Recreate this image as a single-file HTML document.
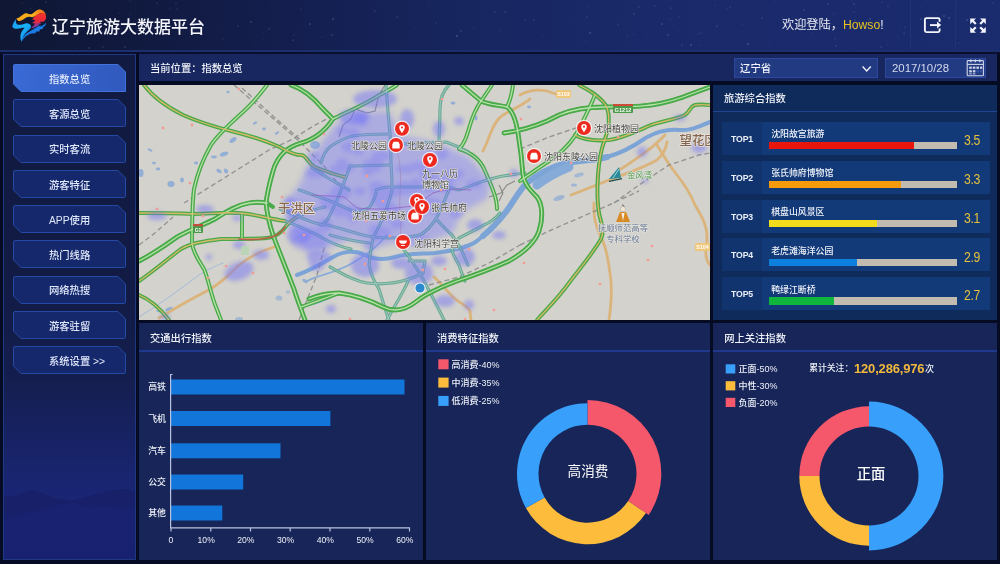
<!DOCTYPE html>
<html lang="zh-CN">
<head>
<meta charset="utf-8">
<title>辽宁旅游大数据平台</title>
<style>
*{box-sizing:border-box;margin:0;padding:0}
html,body{width:1000px;height:564px;overflow:hidden}
body{position:relative;font-family:"Liberation Sans","Noto Sans CJK SC",sans-serif;color:#fff;
 background:#0d1433;}
.abs{position:absolute}
#bg{left:0;top:0;width:1000px;height:52px;background:linear-gradient(90deg,#0f1734 0%,#111a40 15%,#141f50 30%,#17255e 45%,#192968 60%,#1a2a6c 80%,#1a2b6e 100%)}
#hdr{left:0;top:0;width:1000px;height:49px}
#hline{left:0;top:49.5px;width:1000px;height:2.2px;background:#1b2e6e}
#hline2{left:0;top:51.7px;width:1000px;height:2.6px;background:#090f2c}
#title{left:52px;top:15.5px;font-size:17px;font-weight:500;line-height:24px;white-space:nowrap;color:#f4f6fb;letter-spacing:0}
#welcome{left:782px;top:16.4px;font-size:12.2px;line-height:18px;white-space:nowrap;color:#e6e9f2}
#welcome b{font-weight:normal;color:#e8c321}
.vdiv{top:0;width:1px;height:49px;background:#1f3478}
/* sidebar */
#side{left:3.2px;top:54.3px;width:133px;height:506.2px;border:1px solid #203884;background:linear-gradient(180deg,#111a40 0%,#121b44 45%,#141e4e 64%,#172264 76%,#192570 84%,#1b2678 92%,#1a2476 100%);overflow:hidden}
.mb{left:13px;width:113px;height:27px}
.mb svg{position:absolute;left:0;top:0}
.mb span{position:absolute;left:0;top:0;width:113px;height:27px;line-height:27px;text-align:center;font-size:10.3px;color:#dfe6f7}
/* panels */
.panel{background:#172558}
.ph{left:0;top:0;width:100%;height:28.6px;border-bottom:2.2px solid #21398c}
.pt{position:absolute;left:11px;top:1.6px;line-height:27px;font-weight:500;font-size:10.3px;color:#eef1f8;white-space:nowrap}
#crumb{left:139px;top:54px;width:858px;height:27px;background:#18275f}
#crumb .pt{left:11px;top:1px}
.inp{top:57.6px;height:20.6px;background:#223a82;border:1px solid #2c489c}

.mbtn{position:absolute;left:13px;width:113px;height:28px}
.mbtn svg{position:absolute;left:0;top:0;width:113px;height:28px;overflow:visible}
.mbtn span{position:absolute;left:0;top:1.8px;width:113px;height:28px;line-height:28px;text-align:center;font-size:10.3px;font-weight:500;color:#dfe7fa;white-space:nowrap}
.row{position:absolute;left:9px;width:267.6px;height:33px;background:#133a78}
.row .tc{position:absolute;left:0;top:0;width:40px;height:33px;background:#11346e;text-align:center;line-height:34.6px;font-size:8.7px;font-weight:700;color:#e9eef9;letter-spacing:-0.1px}
.row .nm{position:absolute;left:49.2px;top:4.8px;font-size:8.9px;line-height:16px;font-weight:500;color:#f0f3fa;white-space:nowrap}
.row .bar{position:absolute;left:47.4px;top:20.2px;width:188px;height:7.4px;background:#c2bbb0}
.row .bar i{position:absolute;left:0;top:0;height:100%;display:block}
.row .val{position:absolute;left:236px;top:10.2px;width:28px;text-align:center;font-size:14.2px;line-height:16px;color:#e6c13c;letter-spacing:-0.4px;white-space:nowrap;transform:scaleX(0.86)}
.lg{position:absolute;font-size:9px;line-height:12px;font-weight:500;color:#eef1f8;white-space:nowrap}
.sq{position:absolute;width:10px;height:10px}
</style>
</head>
<body>
<div id="bg" class="abs"></div>
<div class="abs" style="left:0;top:52px;width:1000px;height:512px;background:#060b24"></div>
<svg class="abs" style="left:0;top:0" width="1000" height="50" viewBox="0 0 1000 50"><g fill="#b8c4ee"><circle cx="238" cy="26" r="0.5" opacity="0.42"/><circle cx="474" cy="28" r="0.8" opacity="0.12"/><circle cx="837" cy="12" r="0.5" opacity="0.18"/><circle cx="717" cy="26" r="0.8" opacity="0.28"/><circle cx="639" cy="7" r="0.5" opacity="0.41"/><circle cx="523" cy="36" r="0.4" opacity="0.17"/><circle cx="957" cy="2" r="0.4" opacity="0.39"/><circle cx="269" cy="29" r="0.6" opacity="0.36"/><circle cx="921" cy="19" r="0.8" opacity="0.27"/><circle cx="936" cy="42" r="0.4" opacity="0.13"/><circle cx="495" cy="12" r="0.6" opacity="0.38"/><circle cx="855" cy="20" r="0.6" opacity="0.31"/><circle cx="534" cy="20" r="0.5" opacity="0.42"/><circle cx="682" cy="45" r="0.5" opacity="0.45"/><circle cx="671" cy="8" r="0.5" opacity="0.44"/><circle cx="905" cy="27" r="0.5" opacity="0.33"/><circle cx="988" cy="13" r="0.4" opacity="0.14"/><circle cx="854" cy="48" r="0.4" opacity="0.23"/><circle cx="67" cy="43" r="0.4" opacity="0.22"/><circle cx="769" cy="42" r="0.4" opacity="0.32"/><circle cx="762" cy="18" r="0.8" opacity="0.23"/><circle cx="881" cy="47" r="0.8" opacity="0.20"/><circle cx="36" cy="0" r="0.4" opacity="0.32"/><circle cx="31" cy="9" r="0.6" opacity="0.22"/><circle cx="263" cy="33" r="0.5" opacity="0.22"/><circle cx="959" cy="43" r="0.6" opacity="0.24"/><circle cx="870" cy="19" r="0.8" opacity="0.34"/><circle cx="103" cy="47" r="0.8" opacity="0.21"/><circle cx="634" cy="34" r="0.5" opacity="0.26"/><circle cx="258" cy="15" r="0.5" opacity="0.12"/><circle cx="415" cy="28" r="0.4" opacity="0.24"/><circle cx="589" cy="6" r="0.5" opacity="0.27"/><circle cx="679" cy="17" r="0.5" opacity="0.36"/><circle cx="22" cy="3" r="0.4" opacity="0.44"/><circle cx="251" cy="22" r="0.8" opacity="0.32"/><circle cx="177" cy="9" r="0.5" opacity="0.40"/><circle cx="264" cy="38" r="0.4" opacity="0.37"/><circle cx="27" cy="27" r="0.5" opacity="0.22"/><circle cx="223" cy="39" r="0.5" opacity="0.23"/><circle cx="678" cy="31" r="0.4" opacity="0.15"/><circle cx="322" cy="16" r="0.5" opacity="0.26"/><circle cx="856" cy="8" r="0.5" opacity="0.36"/><circle cx="218" cy="27" r="0.5" opacity="0.19"/><circle cx="121" cy="25" r="0.5" opacity="0.22"/><circle cx="836" cy="28" r="0.5" opacity="0.23"/><circle cx="828" cy="4" r="0.8" opacity="0.23"/><circle cx="130" cy="14" r="0.5" opacity="0.27"/><circle cx="634" cy="14" r="0.8" opacity="0.26"/><circle cx="921" cy="7" r="0.4" opacity="0.28"/><circle cx="833" cy="30" r="0.8" opacity="0.26"/><circle cx="950" cy="45" r="0.5" opacity="0.13"/><circle cx="457" cy="36" r="0.8" opacity="0.44"/><circle cx="544" cy="43" r="0.4" opacity="0.40"/><circle cx="971" cy="6" r="0.5" opacity="0.13"/><circle cx="904" cy="33" r="0.5" opacity="0.42"/><circle cx="900" cy="28" r="0.4" opacity="0.28"/><circle cx="121" cy="24" r="0.5" opacity="0.34"/><circle cx="525" cy="20" r="0.8" opacity="0.16"/><circle cx="125" cy="47" r="0.8" opacity="0.28"/><circle cx="782" cy="17" r="0.5" opacity="0.16"/><circle cx="888" cy="6" r="0.5" opacity="0.38"/><circle cx="922" cy="39" r="0.4" opacity="0.28"/><circle cx="571" cy="19" r="0.5" opacity="0.20"/><circle cx="618" cy="25" r="0.4" opacity="0.28"/><circle cx="776" cy="0" r="0.4" opacity="0.38"/><circle cx="46" cy="2" r="0.6" opacity="0.44"/><circle cx="854" cy="4" r="0.8" opacity="0.28"/><circle cx="157" cy="3" r="0.6" opacity="0.33"/><circle cx="587" cy="17" r="0.5" opacity="0.45"/><circle cx="429" cy="6" r="0.4" opacity="0.36"/><circle cx="380" cy="4" r="0.5" opacity="0.13"/><circle cx="461" cy="31" r="0.8" opacity="0.25"/><circle cx="801" cy="30" r="0.6" opacity="0.14"/><circle cx="627" cy="36" r="0.5" opacity="0.26"/><circle cx="694" cy="22" r="0.5" opacity="0.19"/><circle cx="270" cy="28" r="0.6" opacity="0.19"/><circle cx="130" cy="1" r="0.5" opacity="0.24"/><circle cx="898" cy="38" r="0.5" opacity="0.16"/><circle cx="691" cy="45" r="0.8" opacity="0.38"/><circle cx="668" cy="35" r="0.8" opacity="0.30"/><circle cx="812" cy="34" r="0.6" opacity="0.17"/><circle cx="774" cy="2" r="0.4" opacity="0.31"/><circle cx="659" cy="18" r="0.4" opacity="0.23"/><circle cx="852" cy="1" r="0.4" opacity="0.34"/><circle cx="836" cy="46" r="0.8" opacity="0.22"/><circle cx="89" cy="48" r="0.8" opacity="0.29"/><circle cx="715" cy="5" r="0.4" opacity="0.43"/><circle cx="61" cy="16" r="0.8" opacity="0.18"/><circle cx="77" cy="48" r="0.5" opacity="0.27"/><circle cx="700" cy="45" r="0.5" opacity="0.24"/><circle cx="397" cy="17" r="0.6" opacity="0.44"/><circle cx="375" cy="11" r="0.6" opacity="0.40"/><circle cx="967" cy="20" r="0.8" opacity="0.37"/><circle cx="674" cy="25" r="0.6" opacity="0.17"/><circle cx="401" cy="43" r="0.5" opacity="0.15"/><circle cx="748" cy="44" r="0.8" opacity="0.43"/><circle cx="586" cy="41" r="0.5" opacity="0.21"/><circle cx="199" cy="28" r="0.5" opacity="0.43"/><circle cx="851" cy="26" r="0.5" opacity="0.34"/><circle cx="855" cy="29" r="0.8" opacity="0.31"/><circle cx="267" cy="10" r="0.4" opacity="0.21"/><circle cx="804" cy="10" r="0.8" opacity="0.24"/><circle cx="322" cy="37" r="0.5" opacity="0.26"/><circle cx="698" cy="34" r="0.5" opacity="0.27"/><circle cx="835" cy="39" r="0.8" opacity="0.13"/><circle cx="993" cy="3" r="0.6" opacity="0.38"/><circle cx="882" cy="2" r="0.5" opacity="0.41"/><circle cx="648" cy="37" r="0.4" opacity="0.44"/><circle cx="854" cy="12" r="0.5" opacity="0.38"/><circle cx="137" cy="30" r="0.4" opacity="0.42"/><circle cx="255" cy="42" r="0.5" opacity="0.18"/><circle cx="91" cy="38" r="0.4" opacity="0.15"/><circle cx="834" cy="14" r="0.5" opacity="0.27"/><circle cx="734" cy="16" r="0.4" opacity="0.23"/><circle cx="436" cy="23" r="0.5" opacity="0.33"/><circle cx="742" cy="24" r="0.5" opacity="0.30"/><circle cx="119" cy="13" r="0.6" opacity="0.16"/><circle cx="887" cy="44" r="0.4" opacity="0.29"/><circle cx="701" cy="33" r="0.5" opacity="0.37"/><circle cx="296" cy="32" r="0.5" opacity="0.16"/><circle cx="944" cy="16" r="0.8" opacity="0.30"/><circle cx="113" cy="24" r="0.5" opacity="0.14"/><circle cx="294" cy="35" r="0.5" opacity="0.33"/><circle cx="730" cy="7" r="0.5" opacity="0.41"/><circle cx="655" cy="6" r="0.8" opacity="0.17"/><circle cx="332" cy="35" r="0.8" opacity="0.26"/><circle cx="301" cy="9" r="0.6" opacity="0.22"/><circle cx="176" cy="3" r="0.5" opacity="0.37"/><circle cx="543" cy="36" r="0.5" opacity="0.15"/><circle cx="271" cy="3" r="0.5" opacity="0.13"/><circle cx="505" cy="12" r="0.8" opacity="0.24"/><circle cx="333" cy="19" r="0.8" opacity="0.39"/><circle cx="69" cy="24" r="0.4" opacity="0.17"/><circle cx="590" cy="33" r="0.8" opacity="0.38"/><circle cx="727" cy="9" r="0.5" opacity="0.31"/><circle cx="670" cy="19" r="0.5" opacity="0.32"/><circle cx="146" cy="19" r="0.5" opacity="0.30"/><circle cx="170" cy="9" r="0.5" opacity="0.24"/><circle cx="293" cy="40" r="0.6" opacity="0.41"/><circle cx="949" cy="18" r="0.8" opacity="0.42"/><circle cx="310" cy="24" r="0.8" opacity="0.35"/><circle cx="299" cy="41" r="0.6" opacity="0.13"/><circle cx="190" cy="30" r="0.4" opacity="0.37"/><circle cx="662" cy="24" r="0.8" opacity="0.33"/><circle cx="199" cy="38" r="0.5" opacity="0.13"/><circle cx="500" cy="31" r="0.6" opacity="0.16"/><circle cx="283" cy="32" r="0.5" opacity="0.16"/><circle cx="792" cy="30" r="0.4" opacity="0.13"/><circle cx="618" cy="24" r="0.6" opacity="0.30"/><circle cx="930" cy="16" r="0.5" opacity="0.35"/></g></svg>
<div id="hline" class="abs"></div>
<div id="hline2" class="abs"></div>
<div id="title" class="abs">辽宁旅游大数据平台</div>
<div id="welcome" class="abs">欢迎登陆，<b>Howso</b>!</div>
<div class="abs vdiv" style="left:910px"></div>
<div class="abs vdiv" style="left:955px"></div>

<svg id="hicons" class="abs" style="left:0;top:0;z-index:5" width="1000" height="90" viewBox="0 0 1000 90" font-family="Liberation Sans, Noto Sans CJK SC, sans-serif">
<defs>
<linearGradient id="lgo" x1="0" y1="0" x2="1" y2="0"><stop offset="0" stop-color="#f6a51a"/><stop offset="0.55" stop-color="#f9b21c"/><stop offset="1" stop-color="#f4621f"/></linearGradient>
<linearGradient id="lgr" x1="0" y1="0" x2="0" y2="1"><stop offset="0" stop-color="#f5342a"/><stop offset="0.6" stop-color="#e8283c"/><stop offset="1" stop-color="#8a3aa0"/></linearGradient>
<linearGradient id="lgb" x1="0" y1="0" x2="1" y2="1"><stop offset="0" stop-color="#1a9cf0"/><stop offset="0.5" stop-color="#18b4f8"/><stop offset="1" stop-color="#1672dc"/></linearGradient>
</defs>
<!-- logo -->
<g id="logo">
<path d="M16.4 18.2C18.5 18.6 20.4 16.2 22.4 14.9C24 13.8 25.6 13.1 27.2 13.4C28.8 13.8 30.2 14.6 31.8 13.9C33.4 13.2 34.6 11.8 36.2 10.8C38 9.6 40.6 9 42.8 10.4C44.6 11.6 45.6 13.6 46 15.8C44.4 13.6 42 13 40 13.4C38.4 13.8 37.2 14.8 35.8 15.8C34.2 17 32.4 17.4 30.6 17C29 16.6 27.6 16.8 26.2 17.6C24.2 18.8 22.4 20.4 20.2 21C18.4 21.4 16.8 20.2 16.4 18.2Z" fill="url(#lgo)"/>
<path d="M32.2 19.2C33.8 17 35.8 15.4 38 14.2C40.4 12.9 43.6 12.8 45.4 14.8C46.6 16.4 46.4 18.8 45 20.4C43.6 21.8 41.6 22 39.8 21.8L41.2 23.4L36.6 24L37.6 25.6L33.2 26.6L35 23.4L32 23L35.4 20.6Z" fill="url(#lgr)"/>
<path d="M31 28.4C32.4 26.6 34.6 25.6 36.8 24.6L40.8 22.6L38.4 25.6C36.4 27 33.4 28 31 28.4Z" fill="#8c3c9e"/>
<path d="M12.3 26.4C12.8 23.8 14.4 21 16 19C15.6 21.4 15.8 23.4 17.4 24.4C19.6 25.6 22.6 24 25.4 23.4C27.6 23 29.8 23.6 30.8 25.4C31.4 26.8 30.6 28.4 29.4 29.6C27.6 31.4 25.4 32.8 24.2 35C23 37 22.4 39.4 21.6 41.8C20.2 39.2 20 36 21 33.2C21.8 30.8 23.6 29.2 24.6 27.4C22.2 27.2 19.6 28.6 17 28.8C15 29 12.8 28.2 12.3 26.4Z" fill="url(#lgb)"/>
<path d="M21.6 41.8C22.2 38.2 24 35.4 26.8 33.2C29.4 31.2 32.4 30 35 28.2L38.4 26.2L41 25.2L40 27L43.8 24.8L46 22.4L45.4 25.4L42.8 27.4L43.4 28.6L39.4 29.8L39.8 31.2L35.6 31.8L35.8 33.2L31.6 33.6C28.4 34.4 25.6 36.2 23.8 38.4C23 39.4 22.2 40.6 21.6 41.8Z" fill="#1a7ce6"/>
</g>
<!-- logout icon -->
<g fill="none" stroke="#f2f4fa" stroke-width="1.9" stroke-linejoin="round">
<path d="M939.6 21.8V19.6Q939.6 18.1 938.1 18.1H926.4Q924.9 18.1 924.9 19.6V30.6Q924.9 32.1 926.4 32.1H938.1Q939.6 32.1 939.6 30.6V28.6"/>
<path d="M930 25.1H938.2"/>
</g>
<path d="M937 21.6L941.2 25.1L937 28.6Z" fill="#f2f4fa"/>
<!-- fullscreen icon -->
<g fill="#f2f4fa">
<path d="M970.2 18.4H976L973.9 20.5L976.6 23.2L975 24.8L972.3 22.1L970.2 24.2Z"/>
<path d="M985.8 18.4H980L982.1 20.5L979.4 23.2L981 24.8L983.7 22.1L985.8 24.2Z"/>
<path d="M970.2 32.8H976L973.9 30.7L976.6 28L975 26.4L972.3 29.1L970.2 27Z"/>
<path d="M985.8 32.8H980L982.1 30.7L979.4 28L981 26.4L983.7 29.1L985.8 27Z"/>
</g>
<!-- select -->
<text x="740" y="71.6" font-size="10.4" font-weight="500" fill="#f1f4fb">辽宁省</text>
<path d="M862.6 66.6L866.7 71L870.8 66.6" fill="none" stroke="#eef1f8" stroke-width="1.4"/>
<text x="892" y="72.4" font-size="11.4" fill="#d4daee">2017/10/28</text>
<!-- calendar -->
<g fill="none" stroke="#cfd5ea" stroke-width="1.1">
<rect x="967.2" y="60.6" width="16.2" height="15.2" rx="0.8"/>
<path d="M967.2 64.4H983.4"/>
<path d="M970.8 59.6V62.2M975.3 59.6V62.2M979.8 59.6V62.2" stroke-width="1.3"/>
</g>
<g fill="#cfd5ea">
<rect x="969.2" y="66.6" width="2.6" height="2.2"/><rect x="972.8" y="66.6" width="2.6" height="2.2"/><rect x="976.4" y="66.6" width="2.6" height="2.2"/><rect x="980" y="66.6" width="2.2" height="2.2"/>
<rect x="969.2" y="70.2" width="2.6" height="2.2"/><rect x="972.8" y="70.2" width="2.6" height="2.2"/>
<rect x="969.2" y="73" width="2.6" height="1.6" opacity="0.6"/><rect x="972.8" y="73" width="2.6" height="1.6" opacity="0.6"/>
</g>
<g fill="#3a56a8"><rect x="976.4" y="70.2" width="2.6" height="2.2"/><rect x="980" y="70.2" width="2.2" height="2.2"/></g>
</svg>
<div id="side" class="abs"><svg style="position:absolute;left:0;top:430px" width="131" height="76" viewBox="0 0 131 76"><path d="M0 12L14 10L28 5L38 8L52 13L66 16L82 12L96 8L110 5L122 4L131 7V76H0Z" fill="#131a5c" opacity="0.45"/><path d="M0 36L16 30L36 25L56 20L68 17L84 22L100 20L116 24L131 22V76H0Z" fill="#1a2478" opacity="0.5"/></svg></div>
<div class="mbtn" style="top:64.0px"><svg viewBox="0 0 113 28"><defs><linearGradient id="ab" x1="0" y1="0" x2="1" y2="0"><stop offset="0" stop-color="#3a6ad6"/><stop offset="0.5" stop-color="#3561c8"/><stop offset="1" stop-color="#3159be"/></linearGradient></defs><path d="M1.5 0.5H105L112.5 8V27.5H8L0.5 20V1.5Q0.5 0.5 1.5 0.5Z" fill="url(#ab)" stroke="#4273dc" stroke-width="1"/></svg><span style="text-align:left;padding-left:36px">指数总览</span></div>
<div class="mbtn" style="top:99.2px"><svg viewBox="0 0 113 28"><path d="M2 0.5H105L112.5 8V26.5Q112.5 27.5 111.5 27.5H8L0.5 20V2Q0.5 0.5 2 0.5Z" fill="#15286b" stroke="#2649a6" stroke-width="1"/></svg><span style="text-align:left;padding-left:36px">客源总览</span></div>
<div class="mbtn" style="top:134.5px"><svg viewBox="0 0 113 28"><path d="M2 0.5H105L112.5 8V26.5Q112.5 27.5 111.5 27.5H8L0.5 20V2Q0.5 0.5 2 0.5Z" fill="#15286b" stroke="#2649a6" stroke-width="1"/></svg><span style="text-align:left;padding-left:36px">实时客流</span></div>
<div class="mbtn" style="top:169.8px"><svg viewBox="0 0 113 28"><path d="M2 0.5H105L112.5 8V26.5Q112.5 27.5 111.5 27.5H8L0.5 20V2Q0.5 0.5 2 0.5Z" fill="#15286b" stroke="#2649a6" stroke-width="1"/></svg><span style="text-align:left;padding-left:36px">游客特征</span></div>
<div class="mbtn" style="top:205.0px"><svg viewBox="0 0 113 28"><path d="M2 0.5H105L112.5 8V26.5Q112.5 27.5 111.5 27.5H8L0.5 20V2Q0.5 0.5 2 0.5Z" fill="#15286b" stroke="#2649a6" stroke-width="1"/></svg><span style="text-align:left;padding-left:36px">APP使用</span></div>
<div class="mbtn" style="top:240.2px"><svg viewBox="0 0 113 28"><path d="M2 0.5H105L112.5 8V26.5Q112.5 27.5 111.5 27.5H8L0.5 20V2Q0.5 0.5 2 0.5Z" fill="#15286b" stroke="#2649a6" stroke-width="1"/></svg><span style="text-align:left;padding-left:36px">热门线路</span></div>
<div class="mbtn" style="top:275.5px"><svg viewBox="0 0 113 28"><path d="M2 0.5H105L112.5 8V26.5Q112.5 27.5 111.5 27.5H8L0.5 20V2Q0.5 0.5 2 0.5Z" fill="#15286b" stroke="#2649a6" stroke-width="1"/></svg><span style="text-align:left;padding-left:36px">网络热搜</span></div>
<div class="mbtn" style="top:310.8px"><svg viewBox="0 0 113 28"><path d="M2 0.5H105L112.5 8V26.5Q112.5 27.5 111.5 27.5H8L0.5 20V2Q0.5 0.5 2 0.5Z" fill="#15286b" stroke="#2649a6" stroke-width="1"/></svg><span style="text-align:left;padding-left:36px">游客驻留</span></div>
<div class="mbtn" style="top:346.0px"><svg viewBox="0 0 113 28"><path d="M2 0.5H105L112.5 8V26.5Q112.5 27.5 111.5 27.5H8L0.5 20V2Q0.5 0.5 2 0.5Z" fill="#15286b" stroke="#2649a6" stroke-width="1"/></svg><span style="text-align:left;padding-left:36px">系统设置 &gt;&gt;</span></div>

<div id="crumb" class="abs"><span class="pt">当前位置：指数总览</span></div>
<div class="abs inp" style="left:734px;width:144px"></div>
<div class="abs inp" style="left:885px;width:101px"></div>

<div id="map" class="abs" style="left:139px;top:85px;width:571px;height:235px;background:#d3d2cc;overflow:hidden">
<svg class="abs" style="left:0;top:0;filter:blur(0.35px)" width="571" height="235" viewBox="0 0 571 235" font-family="Liberation Sans, Noto Sans CJK SC, sans-serif">
<defs>
<filter id="hb" x="-20%" y="-20%" width="140%" height="140%"><feGaussianBlur stdDeviation="3.2"/></filter>
<filter id="hb2" x="-20%" y="-20%" width="140%" height="140%"><feGaussianBlur stdDeviation="2"/></filter>
<filter id="sb" x="-10%" y="-10%" width="120%" height="120%"><feGaussianBlur stdDeviation="0.35"/></filter>
<g id="pin" transform="scale(1.32)"><circle r="6.2" fill="#fff" opacity="0.75"/><circle r="5.3" fill="#ee2a1e"/><path d="M0 -3.1A2.1 2.1 0 0 1 2.1 -1C2.1 0.6 0 3.2 0 3.2C0 3.2 -2.1 0.6 -2.1 -1A2.1 2.1 0 0 1 0 -3.1Z" fill="#fff"/><circle cy="-1" r="0.8" fill="#ee2a1e"/></g>
<g id="hse" transform="scale(1.32)"><circle r="6.2" fill="#fff" opacity="0.75"/><circle r="5.3" fill="#ee2a1e"/><path d="M-2.8 2.6V-0.4L-1.8 -2.4H1.8L2.8 -0.4V2.6Z" fill="#fff"/></g>
<g id="bwl" transform="scale(1.32)"><circle r="6.2" fill="#fff" opacity="0.75"/><circle r="5.3" fill="#ee2a1e"/><path d="M-3 -1.2H3A3 2.6 0 0 1 -3 -1.2ZM-1.4 2.2H1.4V3H-1.4Z" fill="#fff"/></g>
</defs>
<rect width="571" height="235" fill="#d3d2cc"/>
<g filter="url(#sb)">
<!-- water -->
<g id="water" fill="none" stroke="#7ba4d6" stroke-linecap="round" stroke-linejoin="round">
<path d="M571 37C560 41 552 46 540 45C528 44 516 47 505 54C495 61 482 68 468 72C452 76 438 75 424 79C410 83 398 90 388 98C380 105 374 118 366 128C358 138 348 148 338 156C328 163 312 166 296 168C282 169 268 168 256 172C246 175 236 175 226 170C216 165 204 166 194 172C184 178 170 186 158 190" stroke-width="4"/>
<path d="M468 72C452 76 438 75 424 79C410 83 398 90 388 98C380 105 374 118 366 128C360 136 352 144 344 151" stroke-width="6"/>
<path d="M430 82C420 86 408 92 398 100" stroke-width="9" stroke="#86abd8"/>
<path d="M248 150C238 162 225 172 210 180C195 188 180 190 168 196" stroke-width="1.8" stroke="#8aacd8"/>
<path d="M200 208C190 214 176 220 160 222" stroke-width="1.6" stroke="#8aacd8"/>
<path d="M0 232C20 220 40 205 60 190C70 184 78 180 84 178" stroke-width="0.8" stroke="#9ab4dc"/>
</g>
<g id="ponds" fill="#7fa3d8" opacity="0.75">
<ellipse cx="94" cy="55" rx="4" ry="2.2" transform="rotate(-35 94 55)"/>
<ellipse cx="85" cy="69" rx="4.5" ry="2" transform="rotate(-20 85 69)"/>
<ellipse cx="75" cy="72" rx="3" ry="1.4"/>
<ellipse cx="80" cy="86" rx="3" ry="1.6" transform="rotate(30 80 86)"/>
<ellipse cx="87" cy="86" rx="2" ry="2.6" transform="rotate(-30 87 86)"/>
<ellipse cx="32" cy="99" rx="3.6" ry="3"/>
<ellipse cx="43" cy="95" rx="2" ry="2.6"/>
<ellipse cx="19" cy="84" rx="2.4" ry="1.4"/>
<ellipse cx="15" cy="78" rx="2" ry="1.2"/>
<ellipse cx="11" cy="65" rx="2.6" ry="1.2" transform="rotate(25 11 65)"/>
<ellipse cx="2" cy="88" rx="2.6" ry="4"/>
<ellipse cx="57" cy="78" rx="2.2" ry="1.4"/>
<ellipse cx="125" cy="44" rx="2" ry="1.4"/>
<ellipse cx="116" cy="38" rx="2.4" ry="1.2" transform="rotate(-30 116 38)"/>
<ellipse cx="138" cy="48" rx="2.4" ry="1.2" transform="rotate(-30 138 48)"/>
<ellipse cx="176" cy="60" rx="5" ry="4" />
<ellipse cx="89" cy="7" rx="1.6" ry="1.2"/>
<ellipse cx="140" cy="213" rx="3.4" ry="2.6" opacity="0.7"/>
<ellipse cx="149" cy="207" rx="2.4" ry="1.8" opacity="0.6"/>
<ellipse cx="100" cy="234" rx="4" ry="2" opacity="0.7"/>
<ellipse cx="30" cy="224" rx="4" ry="1.6" transform="rotate(-25 30 224)"/>
<ellipse cx="20" cy="226" rx="2.6" ry="1.2"/>
<ellipse cx="166" cy="196" rx="3" ry="1.6" transform="rotate(30 166 196)"/>
<ellipse cx="314" cy="18" rx="2.4" ry="1.6"/>
<ellipse cx="337" cy="33" rx="1.6" ry="2.4"/>
<ellipse cx="390" cy="22" rx="2" ry="1.4"/>
<ellipse cx="420" cy="113" rx="6" ry="2.4" transform="rotate(-20 420 113)" opacity="0.8"/>
<ellipse cx="435" cy="100" rx="3" ry="1.6" opacity="0.8"/>
<ellipse cx="440" cy="90" rx="5" ry="2" transform="rotate(-15 440 90)" opacity="0.7"/>
</g>
<!-- orange roads -->
<g fill="none" stroke="#dbb47c" stroke-width="2.8" stroke-linecap="round" stroke-linejoin="round">
<path d="M20 233C35 224 50 215 66 207C80 200 90 190 100 180C110 172 122 166 135 162"/>
<path d="M391 14C384 20 374 24 364 30C356 35 353 45 350 52C348 58 346 62 344 66" />
<path d="M432 110C448 104 462 98 478 92C492 87 506 82 518 75C524 70 527 63 528 57"/>
<path d="M480 85C492 78 502 70 512 63C518 58 522 54 526 50"/>
<path d="M518 60C524 70 530 80 538 90C546 100 552 110 556 120C562 130 568 140 568 152C568 164 564 172 571 180"/>
<path d="M455 118C454 128 456 140 462 152C468 164 470 180 472 196C473 210 472 222 470 235"/>
<path d="M295 192C302 198 308 206 314 212C320 218 328 220 331 226L332 235"/>
<path d="M381 10C388 6 398 4 408 6C414 8 418 10 424 10"/>
<path d="M258 66C262 80 262 95 261 110C260 125 262 140 262 150" stroke="#c9a08a" stroke-width="1" opacity="0.8"/>
</g>
<!-- railways -->
<g fill="none" stroke="#8a8a8a" stroke-width="1.4" stroke-dasharray="5 3" opacity="0.85">
<path d="M95 0L130 30L160 56L186 82L200 100"/>
<path d="M45 118L90 90L130 65L152 55L176 40L190 33"/>
<path d="M103 3L135 32L165 58"/>
<path d="M0 160L16 148L34 132"/>
<path d="M475 118L500 100L530 80L560 70L571 68"/>
<path d="M381 160L410 146L440 133L470 120L500 106"/>
<path d="M290 200L320 192L350 178L381 160"/>
<path d="M160 235L170 210L178 190L186 160"/>
<path d="M381 64L410 52L440 42"/>
</g>
<g fill="none" stroke="#777" stroke-width="1.1" opacity="0.8">
<path d="M200 52L204 40L212 34L216 24L228 28L236 26L240 10L246 0"/>
<path d="M350 112L362 108L368 100L376 96"/>
<path d="M360 100L364 108L360 116"/>
</g>
<!-- green roads -->
<g id="roads" fill="none" stroke-linecap="round" stroke-linejoin="round">
<g stroke="#48aa48" stroke-width="4">
<path id="rA" d="M5 0C14 12 28 22 44 30C60 37 76 42 92 46C108 50 122 54 136 60C146 64 152 70 162 70C168 70 168 78 176 82C186 86 196 90 206 92"/>
<path id="rB" d="M128 0C122 8 114 18 104 27C92 38 80 48 72 60C64 74 58 90 55 104C53 120 53 140 53 158C54 168 60 176 65 184C70 196 72 210 77 222L82 235"/>
<path id="rC" d="M152 0C164 4 174 12 184 24C188 28 192 32 194 34C186 46 176 54 162 58C148 62 138 72 134 86C130 100 128 110 127 118C128 128 130 138 134 150C140 166 148 186 155 204C158 214 162 224 166 235"/>
<path id="rC2" d="M194 34C206 28 220 22 234 14C244 8 252 4 258 0"/>
<path id="rD" d="M0 128C16 128 34 128 54 129C70 129 84 127 100 128C116 129 130 134 146 136"/>
<path id="rE" d="M0 176C12 170 24 162 38 152C50 145 64 140 76 134C88 126 98 120 110 118C116 117 122 117 128 118"/>
<path id="rF" d="M0 196C12 188 26 176 42 164C52 158 66 156 82 154C100 154 118 154 128 153C138 152 144 146 148 140C152 136 154 134 158 132"/>
<path id="rG" d="M103 130V154"/>
<path id="rH" d="M162 222C174 218 186 213 200 208"/>
<path id="rI" d="M128 118L134 122"/>
<path id="rJ" d="M353 0C349 6 345 12 342 16C338 22 334 30 331 40C328 50 326 58 320 64C334 68 342 76 346 86C352 100 358 112 358 124"/>
<path id="rJ2" d="M374 0C373 8 371 16 368 22"/>
<path id="rK" d="M323 0C330 6 336 11 342 16C350 20 360 20 368 22C374 26 377 36 379 48C381 60 383 76 384 90C385 98 390 104 398 112C404 120 404 134 400 146C396 158 384 168 370 176C352 184 336 190 318 196C302 202 288 208 278 216C268 224 256 228 244 222C232 216 216 210 200 208C192 208 180 210 170 214"/>
<path id="rM" d="M365 48C380 46 394 42 408 36C412 34 416 32 420 30C434 24 450 22 466 22C482 22 498 22 512 20C526 18 540 14 552 9L571 2"/>
<path id="rN" d="M440 0C452 6 462 12 468 22C471 32 470 44 466 54C462 64 460 76 459 90C458 104 458 116 460 128C462 138 466 146 462 154C454 168 442 182 430 198C420 212 408 224 398 235"/>
<path id="rO" d="M381 96C392 88 404 80 416 72C426 64 434 56 440 44C446 32 452 20 456 10"/>
<path id="rP" d="M436 50C446 56 458 56 470 55C484 53 498 46 512 40C524 36 538 34 546 30C552 26 550 22 556 20C562 19 566 20 571 20"/>
<path id="rQ" d="M0 210C10 214 20 222 30 235" />
</g>
<g stroke="#52a088" stroke-width="3.2" opacity="0.8">
<path d="M247 0C248 14 249 30 251 49C252 60 252 70 252 80C253 90 253 98 253 105C251 114 248 122 246 128C242 138 238 146 234 153C232 162 231 172 230 180C232 190 236 198 240 204C243 214 246 224 250 235"/>
<path d="M310 0C304 6 301 14 301 24C301 36 300 50 300 58"/>
<path d="M182 78C184 70 188 64 192 61C200 56 208 52 214 51C226 49 238 49 251 49"/>
<path d="M251 56C256 58 260 59 265 59C280 58 294 57 307 57C316 60 322 63 329 67"/>
<path d="M211 81C224 81 238 80 252 80"/>
<path d="M237 105C242 103 246 102 250 102C264 102 278 102 292 102C300 102 306 102 310 102C314 103 318 105 320 105C330 102 338 98 345 96C352 94 358 92 364 91C372 90 378 89 386 88"/>
<path d="M211 81C208 90 205 98 202 105C198 116 193 126 189 134C187 137 185 139 182 140"/>
<path d="M160 105C170 108 180 112 189 115C198 119 206 123 214 126C220 127 226 125 230 123C234 118 236 112 237 108"/>
<path d="M141 124C152 128 162 133 173 137C178 139 184 140 189 140C200 143 212 147 224 150C232 152 242 153 250 153C260 153 272 152 281 150C288 146 293 140 297 134C302 124 306 114 310 105"/>
<path d="M173 83C178 86 184 90 189 93C196 97 204 102 210 105"/>
<path d="M297 134C303 140 308 146 313 150C317 156 320 161 323 166C325 171 327 176 329 180"/>
<path d="M265 165C272 174 278 184 284 194C290 206 298 220 305 235"/>
<path d="M191 182C202 188 214 196 228 198C244 200 258 198 270 194C276 192 280 190 284 188"/>
<path d="M361 128C356 134 350 138 345 140C336 145 328 149 320 153C316 158 314 162 313 166C315 172 318 176 320 180C322 186 324 192 326 196"/>
<path d="M146 136C158 140 170 146 182 152C192 158 202 162 212 164"/>
<path d="M158 132C166 128 176 124 186 122"/>
<path d="M270 194C266 204 260 214 254 224L248 235"/>
<path d="M284 188L286 176L270 176"/>
<path d="M191 150C204 154 216 156 230 158"/>
</g>
<g id="innerlight" stroke="#b4d6cc" stroke-width="1" opacity="0.7">
<path d="M247 0C248 14 249 30 251 49C252 60 252 70 252 80C253 90 253 98 253 105C251 114 248 122 246 128C242 138 238 146 234 153C232 162 231 172 230 180C232 190 236 198 240 204C243 214 246 224 250 235"/>
<path d="M310 0C304 6 301 14 301 24C301 36 300 50 300 58"/>
<path d="M182 78C184 70 188 64 192 61C200 56 208 52 214 51C226 49 238 49 251 49"/>
<path d="M251 56C256 58 260 59 265 59C280 58 294 57 307 57C316 60 322 63 329 67"/>
<path d="M211 81C224 81 238 80 252 80"/>
<path d="M237 105C242 103 246 102 250 102C264 102 278 102 292 102C300 102 306 102 310 102C314 103 318 105 320 105C330 102 338 98 345 96C352 94 358 92 364 91C372 90 378 89 386 88"/>
<path d="M211 81C208 90 205 98 202 105C198 116 193 126 189 134C187 137 185 139 182 140"/>
<path d="M160 105C170 108 180 112 189 115C198 119 206 123 214 126C220 127 226 125 230 123C234 118 236 112 237 108"/>
<path d="M141 124C152 128 162 133 173 137C178 139 184 140 189 140C200 143 212 147 224 150C232 152 242 153 250 153C260 153 272 152 281 150C288 146 293 140 297 134C302 124 306 114 310 105"/>
<path d="M173 83C178 86 184 90 189 93C196 97 204 102 210 105"/>
<path d="M297 134C303 140 308 146 313 150C317 156 320 161 323 166C325 171 327 176 329 180"/>
<path d="M265 165C272 174 278 184 284 194C290 206 298 220 305 235"/>
<path d="M191 182C202 188 214 196 228 198C244 200 258 198 270 194C276 192 280 190 284 188"/>
<path d="M361 128C356 134 350 138 345 140C336 145 328 149 320 153C316 158 314 162 313 166C315 172 318 176 320 180C322 186 324 192 326 196"/>
<path d="M146 136C158 140 170 146 182 152C192 158 202 162 212 164"/>
<path d="M158 132C166 128 176 124 186 122"/>
<path d="M270 194C266 204 260 214 254 224L248 235"/>
<path d="M284 188L286 176L270 176"/>
<path d="M191 150C204 154 216 156 230 158"/>
</g>
<path d="M173 110C184 111 196 111 205 112C210 116 214 120 218 123C228 124 238 124 246 124C256 123 266 122 275 121C282 117 288 112 294 108C300 106 306 105 313 104C320 104 326 105 332 105" stroke="#a8508e" stroke-width="1" fill="none" opacity="0.8"/>
<g stroke="#48aa48" stroke-width="4.8"><use href="#rM"/><use href="#rK"/><use href="#rC"/><use href="#rE"/></g>
<g stroke="#b8e2aa" stroke-width="1.3">
<use href="#rC"/><use href="#rC2"/><use href="#rE"/><use href="#rK"/><use href="#rM"/><use href="#rB"/><use href="#rJ"/><use href="#rJ2"/><use href="#rO"/><use href="#rH"/><use href="#rG"/>
</g>
<g stroke="#d8b86c" stroke-width="1.3">
<use href="#rN"/><use href="#rA"/><use href="#rD"/><use href="#rF"/><use href="#rP"/><use href="#rQ"/>
</g>
<path d="M100 154C110 155 120 155 128 153C136 152 142 148 146 142" stroke="#b0604a" stroke-width="1.6"/>
</g>
</g>
<!-- heat -->
<g id="heat" filter="url(#hb)" fill="#7676ff">
<polygon points="176,66 196,40 216,28 250,26 262,50 300,58 330,72 352,96 348,114 322,128 314,148 276,162 254,158 234,164 212,154 192,162 170,170 150,142 146,118 160,100" opacity="0.42"/>
</g>
<g filter="url(#hb2)" fill="#6e6ef6" opacity="0.30">
<ellipse cx="215" cy="49" rx="5.4" ry="6.1"/>
<ellipse cx="224" cy="36" rx="5.2" ry="5.7"/>
<ellipse cx="236" cy="145" rx="5.7" ry="4.9"/>
<ellipse cx="267" cy="84" rx="10.9" ry="4.2"/>
<ellipse cx="174" cy="72" rx="6.1" ry="6.3"/>
<ellipse cx="279" cy="81" rx="8.3" ry="4.3"/>
<ellipse cx="287" cy="89" rx="6.9" ry="6.3"/>
<ellipse cx="242" cy="71" rx="9.2" ry="5.0"/>
<ellipse cx="266" cy="103" rx="10.3" ry="6.9"/>
<ellipse cx="174" cy="87" rx="5.9" ry="6.0"/>
<ellipse cx="158" cy="123" rx="8.4" ry="7.5"/>
<ellipse cx="213" cy="127" rx="8.6" ry="6.3"/>
<ellipse cx="242" cy="147" rx="10.7" ry="5.9"/>
<ellipse cx="292" cy="120" rx="11.0" ry="7.3"/>
<ellipse cx="207" cy="83" rx="9.0" ry="4.1"/>
<ellipse cx="200" cy="84" rx="10.2" ry="4.3"/>
<ellipse cx="241" cy="106" rx="10.3" ry="7.3"/>
<ellipse cx="234" cy="79" rx="10.7" ry="4.6"/>
<ellipse cx="248" cy="112" rx="6.6" ry="4.0"/>
<ellipse cx="235" cy="80" rx="8.4" ry="7.8"/>
<ellipse cx="289" cy="101" rx="8.7" ry="6.7"/>
<ellipse cx="161" cy="156" rx="10.2" ry="7.2"/>
<ellipse cx="229" cy="85" rx="5.6" ry="6.5"/>
<ellipse cx="223" cy="32" rx="8.7" ry="4.6"/>
<ellipse cx="175" cy="149" rx="7.8" ry="5.9"/>
<ellipse cx="219" cy="66" rx="6.0" ry="4.1"/>
<ellipse cx="203" cy="80" rx="6.0" ry="7.1"/>
<ellipse cx="258" cy="139" rx="7.0" ry="4.9"/>
<ellipse cx="202" cy="126" rx="10.7" ry="5.8"/>
<ellipse cx="191" cy="117" rx="10.4" ry="7.4"/>
<ellipse cx="247" cy="121" rx="9.8" ry="4.3"/>
<ellipse cx="283" cy="157" rx="9.5" ry="5.9"/>
<ellipse cx="186" cy="140" rx="7.0" ry="7.2"/>
<ellipse cx="231" cy="162" rx="6.0" ry="4.5"/>
<ellipse cx="181" cy="156" rx="5.9" ry="7.3"/>
<ellipse cx="221" cy="106" rx="5.8" ry="4.1"/>
<ellipse cx="238" cy="152" rx="6.3" ry="5.0"/>
<ellipse cx="209" cy="62" rx="6.6" ry="5.7"/>
<ellipse cx="243" cy="111" rx="10.4" ry="5.7"/>
<ellipse cx="335" cy="99" rx="8.1" ry="4.1"/>
<ellipse cx="246" cy="131" rx="8.3" ry="5.3"/>
<ellipse cx="255" cy="107" rx="9.7" ry="4.4"/>
<ellipse cx="306" cy="100" rx="9.6" ry="7.6"/>
<ellipse cx="240" cy="115" rx="8.0" ry="6.0"/>
<ellipse cx="290" cy="92" rx="8.2" ry="5.9"/>
<ellipse cx="202" cy="107" rx="10.7" ry="7.4"/>
<ellipse cx="165" cy="123" rx="10.4" ry="4.6"/>
<ellipse cx="295" cy="122" rx="5.9" ry="7.5"/>
<ellipse cx="237" cy="101" rx="7.0" ry="4.8"/>
<ellipse cx="214" cy="131" rx="5.1" ry="6.2"/>
<ellipse cx="276" cy="101" rx="5.4" ry="7.9"/>
<ellipse cx="176" cy="88" rx="9.9" ry="5.0"/>
<ellipse cx="180" cy="159" rx="9.2" ry="4.4"/>
<ellipse cx="165" cy="161" rx="9.8" ry="4.3"/>
<ellipse cx="204" cy="46" rx="6.4" ry="4.4"/>
<ellipse cx="303" cy="69" rx="6.1" ry="5.4"/>
<ellipse cx="153" cy="132" rx="6.1" ry="5.9"/>
<ellipse cx="315" cy="89" rx="10.0" ry="5.6"/>
<ellipse cx="252" cy="126" rx="10.9" ry="5.4"/>
<ellipse cx="318" cy="128" rx="7.4" ry="5.4"/>
</g>
<g filter="url(#hb2)" fill="#7474f6" opacity="0.5">
<ellipse cx="236" cy="14" rx="22" ry="9"/>
<ellipse cx="214" cy="32" rx="14" ry="8"/>
<ellipse cx="268" cy="34" rx="7" ry="10"/>
<ellipse cx="320" cy="36" rx="5" ry="4"/>
<ellipse cx="300" cy="44" rx="6" ry="8"/>
<ellipse cx="180" cy="172" rx="12" ry="7"/>
<ellipse cx="226" cy="180" rx="14" ry="12"/>
<ellipse cx="280" cy="188" rx="14" ry="12"/>
<ellipse cx="262" cy="178" rx="10" ry="6"/>
<ellipse cx="326" cy="172" rx="10" ry="9"/>
<ellipse cx="300" cy="176" rx="8" ry="5"/>
<ellipse cx="360" cy="150" rx="7" ry="4"/>
<ellipse cx="336" cy="140" rx="8" ry="6"/>
<ellipse cx="306" cy="216" rx="10" ry="6"/>
<ellipse cx="330" cy="220" rx="5" ry="5"/>
<ellipse cx="100" cy="186" rx="15" ry="9" transform="rotate(-20 100 186)"/>
<ellipse cx="122" cy="170" rx="8" ry="5"/>
<ellipse cx="100" cy="160" rx="6" ry="4"/>
<ellipse cx="18" cy="131" rx="10" ry="4"/>
<ellipse cx="66" cy="124" rx="9" ry="4"/>
<ellipse cx="98" cy="133" rx="5" ry="3"/>
<ellipse cx="70" cy="172" rx="3" ry="3"/>
<ellipse cx="160" cy="150" rx="12" ry="9"/>
<ellipse cx="178" cy="178" rx="8" ry="8"/>
<ellipse cx="192" cy="224" rx="5" ry="4"/>
<ellipse cx="26" cy="232" rx="5" ry="3"/>
<ellipse cx="503" cy="67" rx="5" ry="5"/>
<ellipse cx="560" cy="62" rx="8" ry="6"/>
<ellipse cx="541" cy="33" rx="6" ry="3"/>
<ellipse cx="506" cy="95" rx="3" ry="3"/>
<ellipse cx="375" cy="88" rx="4" ry="4"/>
<ellipse cx="150" cy="120" rx="6" ry="8"/>
</g>
<!-- pink dots -->
<g fill="#f59a92">
<circle cx="24" cy="43" r="1.4"/><circle cx="53" cy="40" r="1.4"/><circle cx="100" cy="4" r="1.3"/><circle cx="51" cy="98" r="1.3"/>
<circle cx="185" cy="49" r="1.3"/><circle cx="18" cy="124" r="1.3"/><circle cx="64" cy="131" r="1.3"/><circle cx="87" cy="181" r="1.3"/>
<circle cx="114" cy="188" r="1.3"/><circle cx="69" cy="193" r="1.3"/><circle cx="143" cy="112" r="1.3"/><circle cx="165" cy="150" r="1.3"/>
<circle cx="145" cy="148" r="1.3"/><circle cx="228" cy="91" r="1.4"/><circle cx="303" cy="14" r="1.3"/><circle cx="382" cy="34" r="1.3"/>
<circle cx="302" cy="105" r="1.3"/><circle cx="372" cy="89" r="1.3"/><circle cx="244" cy="116" r="1.3"/><circle cx="227" cy="136" r="1.3"/>
<circle cx="251" cy="151" r="1.3"/><circle cx="226" cy="179" r="1.3"/><circle cx="284" cy="185" r="1.4"/><circle cx="306" cy="184" r="1.3"/>
<circle cx="330" cy="164" r="1.3"/><circle cx="385" cy="178" r="1.3"/><circle cx="355" cy="225" r="1.3"/><circle cx="479" cy="52" r="1.3"/>
<circle cx="432" cy="78" r="1.3"/><circle cx="513" cy="161" r="1.3"/><circle cx="509" cy="175" r="1.3"/><circle cx="461" cy="199" r="1.3"/>
<circle cx="326" cy="234" r="1.3"/><circle cx="211" cy="234" r="1.3"/>
</g>
<!-- shields -->
<rect x="54" y="139" width="10" height="9" rx="1" fill="#4a9a48"/><rect x="54" y="139" width="10" height="2.2" fill="#c0503c"/>
<text x="59" y="146.6" font-size="5" fill="#fff" text-anchor="middle" font-weight="700">G1</text>
<rect x="474" y="19" width="20" height="9" rx="1" fill="#4a9a48"/><rect x="474" y="19" width="20" height="2" fill="#d04a3a"/>
<text x="484" y="26.8" font-size="5.6" fill="#fff" text-anchor="middle" font-weight="700">G1212</text>
<rect x="417" y="5" width="15" height="8" rx="1.5" fill="#efc77a"/><text x="424.5" y="11.4" font-size="5.4" fill="#fff" text-anchor="middle" font-weight="700">S103</text>
<rect x="556" y="158" width="15" height="8" rx="1.5" fill="#efc77a"/><text x="563.5" y="164.4" font-size="5.4" fill="#fff" text-anchor="middle" font-weight="700">S104</text>
<rect x="102" y="161" width="8" height="9" fill="#b6d6b0" opacity="0.8"/>
<!-- labels -->
<g font-size="9" fill="#444" stroke="#e8e7e2" stroke-width="1.2" transform="translate(0 0.8)" paint-order="stroke" stroke-linejoin="round">
<text x="212" y="63.4">北陵公园</text>
<text x="268" y="63.4">北陵公园</text>
<text x="283" y="91.4">九一八历</text>
<text x="283" y="102.4">博物馆</text>
<text x="292" y="125.4">张氏帅府</text>
<text x="213" y="133.4">沈阳五爱市场</text>
<text x="275" y="161.4">沈阳科学宫</text>
<text x="455" y="46.4">沈阳植物园</text>
<text x="405" y="74.4">沈阳东陵公园</text>
</g>
<g font-size="8.4" fill="#6a7a96" stroke="#e4e3de" stroke-width="1.2" paint-order="stroke" stroke-linejoin="round">
<text x="484" y="146" text-anchor="middle">抚顺师范高等</text>
<text x="484" y="157" text-anchor="middle">专科学校</text>
</g>
<text x="488" y="93.4" font-size="8.4" fill="#4e9a4a" stroke="#e4e3de" stroke-width="1.2" paint-order="stroke">金风湾</text>
<g font-size="12.4" font-weight="500" fill="#856650" stroke="#e6e0da" stroke-width="1.6" paint-order="stroke" stroke-linejoin="round">
<text x="139" y="127.6">于洪区</text>
<text x="540.6" y="59.8">望花区</text>
</g>
<!-- sail & scholar icons -->
<path d="M470 94L480 82L482 93Z" fill="#2a8a9a"/><path d="M474 93L480 84" stroke="#bfe6ee" stroke-width="0.8"/><path d="M470 96.4L483 93.6" stroke="#1e4a44" stroke-width="1.2"/>
<g><circle cx="484" cy="124" r="2.6" fill="#efe6d8" stroke="#b0a090" stroke-width="0.5"/><path d="M477 137L481 127H487L491 137Z" fill="#d88a24"/><path d="M482.4 128L484 136L485.6 128Z" fill="#f4eee4"/><path d="M483 119.6L485.4 121.4" stroke="#555" stroke-width="1"/></g>
<!-- markers -->
<use href="#pin" x="263" y="43.8"/>
<use href="#hse" x="257" y="60"/>
<use href="#pin" x="291" y="75"/>
<use href="#pin" x="278" y="116"/>
<use href="#hse" x="276" y="131"/>
<use href="#pin" x="283" y="122"/>
<use href="#bwl" x="264" y="157"/>
<use href="#pin" x="445" y="43"/>
<use href="#hse" x="395" y="71"/>
<circle cx="281" cy="203" r="5.6" fill="#fff" opacity="0.8"/><circle cx="281" cy="203" r="4.6" fill="#2a8ad0"/>
</svg>
</div>

<div id="p1" class="abs panel" style="left:713px;top:85px;width:284px;height:235px;background:#0f2b5b"><div class="abs ph" style="height:26.8px;border-bottom:1.6px solid #1d4592"></div><span class="pt" style="top:0">旅游综合指数</span>
<div class="row" style="top:36.7px"><div class="tc">TOP1</div><div class="nm">沈阳故宫旅游</div><div class="bar"><i style="width:145px;background:#e8160c"></i></div><div class="val">3.5</div></div>
<div class="row" style="top:75.6px"><div class="tc">TOP2</div><div class="nm">张氏帅府博物馆</div><div class="bar"><i style="width:131.5px;background:#f59a0a"></i></div><div class="val">3.3</div></div>
<div class="row" style="top:114.5px"><div class="tc">TOP3</div><div class="nm">棋盘山风景区</div><div class="bar"><i style="width:108px;background:#f2dc1c"></i></div><div class="val">3.1</div></div>
<div class="row" style="top:153.4px"><div class="tc">TOP4</div><div class="nm">老虎滩海洋公园</div><div class="bar"><i style="width:87.8px;background:#0d7fdc"></i></div><div class="val">2.9</div></div>
<div class="row" style="top:192.3px"><div class="tc">TOP5</div><div class="nm">鸭绿江断桥</div><div class="bar"><i style="width:64.5px;background:#0fb53c"></i></div><div class="val">2.7</div></div>
</div>
<div id="p2" class="abs panel" style="left:139px;top:323.3px;width:283.5px;height:236.7px"><div class="abs ph"></div><span class="pt">交通出行指数</span></div>
<div id="p3" class="abs panel" style="left:426px;top:323.3px;width:283.8px;height:236.7px"><div class="abs ph"></div><span class="pt">消费特征指数</span></div>
<div id="p4" class="abs panel" style="left:713.2px;top:323.3px;width:283.5px;height:236.7px"><div class="abs ph"></div><span class="pt">网上关注指数</span></div>
<svg id="charts" class="abs" style="left:0;top:0" width="1000" height="564" viewBox="0 0 1000 564" font-family="Liberation Sans, Noto Sans CJK SC, sans-serif">
<g fill="#1275da">
<rect x="171" y="379.5" width="233.5" height="15"/>
<rect x="171" y="411" width="159.4" height="15"/>
<rect x="171" y="443.3" width="109.5" height="15"/>
<rect x="171" y="474.5" width="72.2" height="15"/>
<rect x="171" y="505.5" width="51.3" height="15"/>
</g>
<g stroke="#b9c2e0" stroke-width="1.2" fill="none">
<path d="M170.6 374V528M170 527.8H410M170.6 374.5H172.5"/>
<path d="M171.0 528V531.5M210.8 528V531.5M250.5 528V531.5M290.2 528V531.5M330.0 528V531.5M369.8 528V531.5M409.5 528V531.5"/>
</g>
<g fill="#eef1f8" font-size="8.9" font-weight="500" text-anchor="end">
<text x="166" y="390.2">高铁</text>
<text x="166" y="421.7">飞机</text>
<text x="166" y="454.0">汽车</text>
<text x="166" y="485.2">公交</text>
<text x="166" y="516.2">其他</text>
</g>
<g fill="#eef1f8" font-size="8.6" text-anchor="middle">
<text x="171.0" y="542.5">0</text>
<text x="206.2" y="542.5">10%</text>
<text x="245.9" y="542.5">20%</text>
<text x="285.6" y="542.5">30%</text>
<text x="325.4" y="542.5">40%</text>
<text x="365.1" y="542.5">50%</text>
<text x="404.9" y="542.5">60%</text>
</g>
<path d="M587.50 399.90A73.8 73.8 0 0 1 648.68 514.97L628.12 501.10A49 49 0 0 0 587.50 424.70Z" fill="#f5576b"/>
<path d="M645.95 513.12A70.5 70.5 0 0 1 525.84 507.88L544.64 497.46A49 49 0 0 0 628.12 501.10Z" fill="#fdbc3c"/>
<path d="M525.84 507.88A70.5 70.5 0 0 1 587.50 403.20L587.50 424.70A49 49 0 0 0 544.64 497.46Z" fill="#38a0fb"/>
<text x="588" y="475.8" font-size="13.6" fill="#fff" text-anchor="middle">高消费</text>
<path d="M869.00 401.60A74.4 74.4 0 0 1 869.00 550.40L869.00 525.50A49.5 49.5 0 0 0 869.00 426.50Z" fill="#38a0fb"/>
<path d="M869.00 545.70A69.7 69.7 0 0 1 799.30 476.00L819.50 476.00A49.5 49.5 0 0 0 869.00 525.50Z" fill="#fdbc3c"/>
<path d="M799.30 476.00A69.7 69.7 0 0 1 869.00 406.30L869.00 426.50A49.5 49.5 0 0 0 819.50 476.00Z" fill="#f5576b"/>
<text x="871" y="478.6" font-size="14.3" fill="#fff" text-anchor="middle" font-weight="500">正面</text>
<rect x="438.3" y="359.3" width="10.3" height="10" fill="#f5576b"/>
<text x="451.6" y="367.6" font-size="9" font-weight="500" fill="#eef1f8">高消费-40%</text>
<rect x="438.3" y="377.6" width="10.3" height="10" fill="#fdbc3c"/>
<text x="451.6" y="385.9" font-size="9" font-weight="500" fill="#eef1f8">中消费-35%</text>
<rect x="438.3" y="395.9" width="10.3" height="10" fill="#38a0fb"/>
<text x="451.6" y="404.2" font-size="9" font-weight="500" fill="#eef1f8">低消费-25%</text>
<rect x="725.7" y="364.3" width="9.6" height="9.2" fill="#38a0fb"/>
<text x="738.4" y="372.2" font-size="9" font-weight="500" fill="#eef1f8">正面-50%</text>
<rect x="725.7" y="381.2" width="9.6" height="9.2" fill="#fdbc3c"/>
<text x="738.4" y="389.1" font-size="9" font-weight="500" fill="#eef1f8">中性-30%</text>
<rect x="725.7" y="397.8" width="9.6" height="9.2" fill="#f5576b"/>
<text x="738.4" y="405.7" font-size="9" font-weight="500" fill="#eef1f8">负面-20%</text>
<text x="809.2" y="371.3" font-size="8.8" font-weight="500" fill="#eef1f8">累计关注：</text>
<text x="854" y="372.6" font-size="13" font-weight="700" fill="#f0b93e" letter-spacing="-0.17">120,286,976</text>
<text x="925" y="371.5" font-size="9" font-weight="500" fill="#eef1f8">次</text>
</svg>
</body>
</html>
